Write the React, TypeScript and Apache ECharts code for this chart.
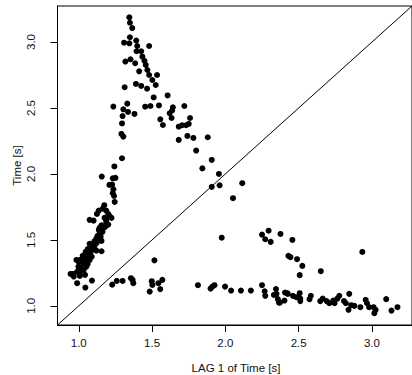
import React, { useEffect, useRef } from "react";
import * as echarts from "echarts";

// LAG 1 of Time [s] (x) and Time [s] (y)
const lagTime: number[] = [
  1.345, 1.349, 1.365, 1.349, 1.309, 1.345, 1.392, 1.399, 1.480, 1.394,
  1.426, 1.434, 1.318, 1.353, 1.385, 1.448, 1.457, 1.412, 1.468, 1.480,
  1.534, 1.502, 1.525, 1.390, 1.426, 1.466, 1.313, 1.511, 1.606, 1.236,
  1.331, 1.304, 1.336, 1.380, 1.299, 1.453, 1.489, 1.547, 1.642, 1.720,
  1.637, 1.620, 1.633, 1.556, 1.574, 1.295, 1.291, 1.304, 1.682, 1.705,
  1.732, 1.750, 1.759, 1.682, 1.741, 1.782, 1.880, 1.801, 1.907, 1.843,
  1.956, 1.907, 1.961, 2.115, 2.052, 1.295, 1.243, 1.157, 1.209, 1.250,
  1.232, 1.228, 1.236, 1.232, 1.241, 1.245, 1.174, 1.164, 1.187, 1.201,
  1.137, 1.124, 1.074, 1.101, 1.187, 1.201, 1.182, 1.155, 1.137, 1.142,
  1.120, 1.106, 1.097, 1.088, 1.074, 1.052, 1.029, 1.155, 1.120, 1.007,
  1.029, 0.998, 1.020, 1.052, 1.074, 1.043, 0.989, 1.007, 0.984, 1.061,
  1.088, 1.043, 0.944, 0.966, 0.989, 1.045, 1.090, 0.961,
  1.034, 1.061, 1.014, 1.000, 1.061, 1.081, 1.108, 1.122, 1.135, 1.149,
  1.162, 1.128, 1.088, 1.101, 1.068, 1.054, 1.034, 1.007, 1.000, 1.027,
  1.047, 1.074, 1.115, 1.169, 1.189, 1.209, 1.223, 1.176, 1.142, 1.155,
  1.516, 1.228, 1.259, 1.299, 1.356, 1.367, 1.372, 1.498, 1.502, 1.543,
  1.570, 1.556, 1.484, 1.813, 1.899, 1.912, 1.926, 1.998, 2.039, 2.106,
  2.174, 1.975, 2.250, 2.295, 2.272, 2.309, 2.376, 2.457, 2.430, 2.444,
  2.489, 2.525, 2.507, 2.651, 2.934, 2.250, 2.268, 2.272, 2.345, 2.349,
  2.358, 2.372, 2.403, 2.407, 2.426, 2.461, 2.484, 2.507, 2.511, 2.511,
  2.574, 2.583, 2.647, 2.664, 2.691, 2.709, 2.736, 2.745, 2.764, 2.777,
  2.809, 2.822, 2.845, 2.840, 2.858, 2.880, 2.921, 2.957, 2.966, 2.980,
  3.011, 3.025, 3.016, 3.097, 3.133, 3.174, 2.331, 2.365, 2.421,
];

const time: number[] = [
  3.187, 3.146, 3.106, 3.036, 2.995, 2.990, 3.011, 2.970, 2.970, 2.930,
  2.930, 2.889, 2.852, 2.869, 2.839, 2.858, 2.826, 2.778, 2.788, 2.750,
  2.750, 2.712, 2.674, 2.682, 2.667, 2.646, 2.657, 2.580, 2.595, 2.511,
  2.533, 2.490, 2.470, 2.455, 2.439, 2.510, 2.515, 2.519, 2.505, 2.515,
  2.481, 2.460, 2.424, 2.414, 2.371, 2.383, 2.303, 2.283, 2.358, 2.369,
  2.369, 2.379, 2.424, 2.258, 2.288, 2.273, 2.278, 2.177, 2.106, 2.042,
  2.000, 1.902, 1.914, 1.930, 1.816, 2.119, 2.057, 1.980, 1.917, 1.970,
  1.967, 1.919, 1.884, 1.854, 1.833, 1.788, 1.763, 1.737, 1.722, 1.697,
  1.722, 1.697, 1.652, 1.646, 1.636, 1.616, 1.601, 1.611, 1.576, 1.545,
  1.510, 1.490, 1.460, 1.434, 1.399, 1.373, 1.364, 1.414, 1.419, 1.348,
  1.323, 1.298, 1.273, 1.298, 1.348, 1.358, 1.258, 1.237, 1.348, 1.430,
  1.373, 1.235, 1.242, 1.222, 1.172, 1.139, 1.192, 1.242,
  1.333, 1.318, 1.288, 1.333, 1.386, 1.409, 1.455, 1.477, 1.500, 1.523,
  1.561, 1.530, 1.424, 1.447, 1.364, 1.333, 1.273, 1.227, 1.273, 1.379,
  1.409, 1.470, 1.485, 1.591, 1.659, 1.682, 1.667, 1.667, 1.591, 1.492,
  1.345, 1.161, 1.189, 1.189, 1.210, 1.197, 1.172, 1.187, 1.159, 1.172,
  1.197, 1.127, 1.108, 1.157, 1.131, 1.146, 1.157, 1.146, 1.116, 1.116,
  1.116, 1.517, 1.540, 1.570, 1.505, 1.485, 1.545, 1.500, 1.379, 1.369,
  1.354, 1.303, 1.233, 1.263, 1.409, 1.157, 1.111, 1.076, 1.127, 1.091,
  1.051, 1.025, 1.040, 1.101, 1.091, 1.076, 1.066, 1.096, 1.055, 1.036,
  1.051, 1.076, 1.036, 1.055, 1.036, 1.020, 1.040, 1.020, 1.055, 1.076,
  1.036, 1.020, 1.091, 0.970, 1.005, 1.000, 0.990, 1.045, 1.020, 0.990,
  0.990, 0.970, 0.945, 1.051, 0.964, 0.990, 1.083, 1.025, 1.096,
];

const tickValues: number[] = [1.0, 1.5, 2.0, 2.5, 3.0];
const axisRange: number[] = [0.855, 3.273];
const identityLine: number[] = [0.5, 3.5];

const FONT = "'Liberation Sans', Arial, Helvetica, sans-serif";

export default function App() {
  const ref = useRef<HTMLDivElement>(null);

  useEffect(() => {
    if (!ref.current) return;
    const chart = echarts.init(ref.current, undefined, { renderer: "svg" });
    const points = lagTime.map((x, i) => [x, time[i]]);
    const axisCommon = {
      type: "value" as const,
      min: axisRange[0],
      max: axisRange[1],
      splitLine: { show: false },
      axisLine: { show: true, onZero: false, lineStyle: { color: "#000", width: 1 } },
      axisTick: {
        show: true,
        length: 7,
        customValues: tickValues,
        lineStyle: { color: "#000", width: 1 },
      },
    };
    chart.setOption({
      animation: false,
      backgroundColor: "#fff",
      grid: {
        left: 57.5,
        top: 6,
        width: 358,
        height: 319,
        show: true,
        borderColor: "#000",
        borderWidth: 1,
        containLabel: false,
      },
      xAxis: {
        ...axisCommon,
        axisLabel: {
          customValues: tickValues,
          formatter: (v: number) => v.toFixed(1),
          color: "#111",
          fontFamily: FONT,
          fontSize: 11.5,
          margin: 12,
        },
      },
      yAxis: {
        ...axisCommon,
        axisLabel: {
          customValues: tickValues,
          formatter: (v: number) => v.toFixed(1),
          color: "#111",
          fontFamily: FONT,
          fontSize: 11.5,
          rotate: 90,
          margin: 21,
        },
      },
      graphic: [
        {
          type: "text",
          x: 236,
          y: 368,
          style: {
            text: "LAG 1 of Time [s]",
            fill: "#111",
            font: `11.5px ${FONT}`,
            textAlign: "center",
            textVerticalAlign: "middle",
          },
        },
        {
          type: "text",
          x: 17,
          y: 165.5,
          rotation: Math.PI / 2,
          style: {
            text: "Time [s]",
            fill: "#111",
            font: `11.5px ${FONT}`,
            textAlign: "center",
            textVerticalAlign: "middle",
          },
        },
      ],
      series: [
        {
          type: "line",
          data: identityLine.map((v) => [v, v]),
          symbol: "none",
          clip: true,
          lineStyle: { color: "#000", width: 1 },
          silent: true,
        },
        {
          type: "scatter",
          data: points,
          symbol: "circle",
          symbolSize: 6,
          itemStyle: { color: "#000", opacity: 1 },
          silent: true,
        },
      ],
    });
    return () => chart.dispose();
  }, []);

  return (
    <div
      ref={ref}
      style={{ position: "absolute", left: 0, top: 0, width: 412, height: 375 }}
    />
  );
}
